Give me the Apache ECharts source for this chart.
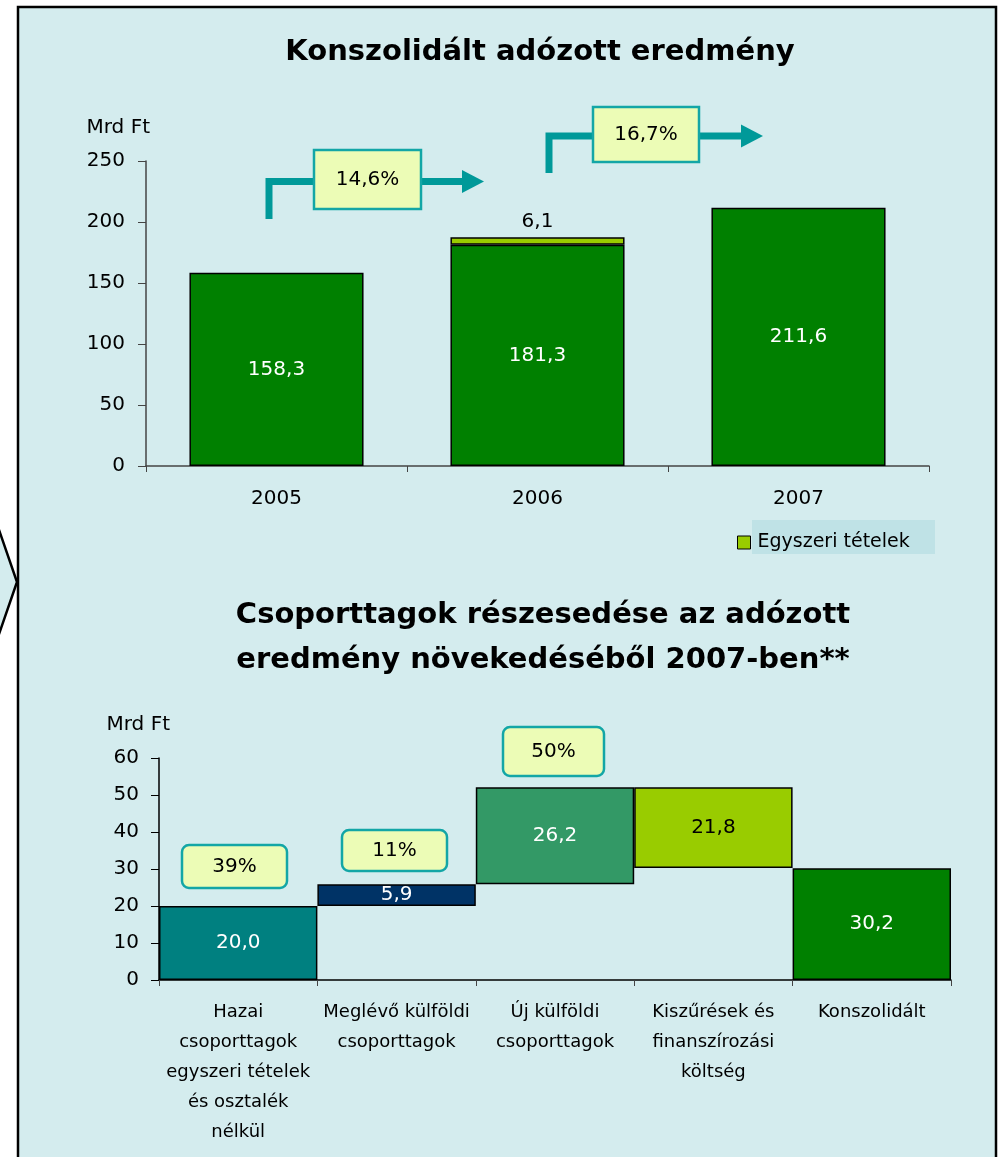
<!DOCTYPE html>
<html>
<head>
<meta charset="utf-8">
<script src="https://cdn.jsdelivr.net/npm/echarts@6/dist/echarts.min.js"></script>
<style>
  html, body { margin: 0; padding: 0; background: #fff; }
  #chart { width: 998px; height: 1157px; }
</style>
</head>
<body>
<div id="chart"></div>
<script>
// felső diagram adatai
const years = ['2005', '2006', '2007']
const consolidated = [158.3, 181.3, 211.6]
const oneOff = [null, 6.1, null]
const growthLabels = ['14,6%', '16,7%']

// alsó (vízesés) diagram adatai
const groups = [
  'Hazai\ncsoporttagok\negyszeri tételek\nés osztalék\nnélkül',
  'Meglévő külföldi\ncsoporttagok',
  'Új külföldi\ncsoporttagok',
  'Kiszűrések és\nfinanszírozási\nköltség',
  'Konszolidált'
]
const steps = [20.0, 5.9, 26.2, -21.8]
const total = 30.2
const shareLabels = ['39%', '11%', '50%']
const stepColors = ['#008080', '#003366', '#339966', '#99cc00', '#008000']

const FONT = 'DejaVu Sans'
const BG = '#d4ecee'
const TEAL = '#009999'

function fmt(v) {
  return Math.abs(v).toFixed(1).replace('.', ',')
}

// vízesés: alap (átlátszó) + látható rész
let running = 0
const wfBase = []
const wfValue = []
steps.forEach(s => {
  if (s >= 0) {
    wfBase.push(running)
    wfValue.push(s)
  } else {
    wfBase.push(running + s)
    wfValue.push(-s)
  }
  running += s
})
wfBase.push(0)
wfValue.push(total)

const chart = echarts.init(document.getElementById('chart'), null, { renderer: 'canvas' })

function arrow(x0, yBottom, yLine, boxL, boxR, tip) {
  const w = 7
  return [
    { type: 'polyline', z: 5, shape: { points: [[x0, yBottom], [x0, yLine], [boxL, yLine]] },
      style: { stroke: TEAL, lineWidth: w, fill: null } },
    { type: 'line', z: 5, shape: { x1: boxR, y1: yLine, x2: tip - 20, y2: yLine },
      style: { stroke: TEAL, lineWidth: w } },
    { type: 'polygon', z: 5, shape: { points: [[tip - 22, yLine - 11.5], [tip, yLine], [tip - 22, yLine + 11.5]] },
      style: { fill: TEAL } }
  ]
}

function box(x, y, w, h, text, r) {
  return [
    { type: 'rect', z: 6, shape: { x: x, y: y, width: w, height: h, r: r || 0 },
      style: { fill: '#ecfcb6', stroke: '#13a6a6', lineWidth: 2.5 } },
    { type: 'text', z: 7, x: x + w / 2, y: y + h / 2,
      style: { text: text, fill: '#000', font: '20px "' + FONT + '"', align: 'center', verticalAlign: 'middle' } }
  ]
}

const graphics = [
  // keret és háttér
  { type: 'rect', z: -10, silent: true, shape: { x: 18, y: 7, width: 978, height: 1170 },
    style: { fill: BG, stroke: '#000', lineWidth: 2.5 } },
  { type: 'polygon', z: -9, silent: true, shape: { points: [[-2, 527], [17, 582], [-2, 637]] },
    style: { fill: BG, stroke: '#000', lineWidth: 2.5 } },
  // jelmagyarázat háttere
  { type: 'rect', z: -5, silent: true, shape: { x: 752, y: 520, width: 183, height: 34 },
    style: { fill: '#bfe2e6' } }
]
  .concat(arrow(269, 219, 181.5, 314, 421, 484))
  .concat(box(314, 150, 107, 59, growthLabels[0]))
  .concat(arrow(549, 173, 136, 593, 699, 763))
  .concat(box(593, 107, 106, 55, growthLabels[1]))
  .concat(box(182, 845, 105, 43, shareLabels[0], 7))
  .concat(box(342, 830, 105, 41, shareLabels[1], 7))
  .concat(box(503, 727, 101, 49, shareLabels[2], 7))

const option = {
  animation: false,
  backgroundColor: '#fff',
  textStyle: { fontFamily: FONT },
  title: [
    { text: 'Konszolidált adózott eredmény', left: 535, top: 33, textAlign: 'center',
      textStyle: { fontFamily: FONT, fontSize: 29, fontWeight: 'bold', color: '#000' } },
    { text: 'Csoporttagok részesedése az adózott\neredmény növekedéséből 2007-ben**',
      left: 538, top: 588, textAlign: 'center',
      textStyle: { fontFamily: FONT, fontSize: 29, fontWeight: 'bold', color: '#000', lineHeight: 45 } }
  ],
  legend: {
    data: ['Egyszeri tételek'],
    left: 732, top: 528,
    icon: 'rect', itemWidth: 13, itemHeight: 13, itemGap: 6,
    itemStyle: { borderColor: '#000', borderWidth: 1 },
    textStyle: { fontFamily: FONT, fontSize: 19, color: '#000', padding: [0, 0, 0, 2] }
  },
  grid: [
    { left: 146, right: 69, top: 161, bottom: 691 },
    { left: 159, right: 47, top: 758, bottom: 177 }
  ],
  xAxis: [
    { type: 'category', gridIndex: 0, data: years,
      axisLine: { lineStyle: { color: '#444', width: 1.5 } },
      axisTick: { show: true, length: 6, interval: 0, lineStyle: { color: '#444' } },
      axisLabel: { fontSize: 20, color: '#000', margin: 23 } },
    { type: 'category', gridIndex: 1, data: groups,
      axisLine: { lineStyle: { color: '#000', width: 1.5 } },
      axisTick: { show: true, length: 6, interval: 0, lineStyle: { color: '#444' } },
      axisLabel: { fontSize: 18, color: '#000', margin: 17, lineHeight: 30, interval: 0 } }
  ],
  yAxis: [
    { type: 'value', gridIndex: 0, min: 0, max: 250, interval: 50,
      name: 'Mrd Ft', nameLocation: 'end', nameGap: 33,
      nameTextStyle: { fontSize: 20, color: '#000', align: 'right', verticalAlign: 'middle', padding: [0, -4, 0, 0] },
      axisLine: { show: true, lineStyle: { color: '#444', width: 1.5 } },
      axisTick: { show: true, length: 8, lineStyle: { color: '#444' } },
      axisLabel: { fontSize: 20, color: '#000', margin: 21 },
      splitLine: { show: false } },
    { type: 'value', gridIndex: 1, min: 0, max: 60, interval: 10,
      name: 'Mrd Ft', nameLocation: 'end', nameGap: 33,
      nameTextStyle: { fontSize: 20, color: '#000', align: 'right', verticalAlign: 'middle', padding: [0, -11, 0, 0] },
      axisLine: { show: true, lineStyle: { color: '#000', width: 1.5 } },
      axisTick: { show: true, length: 8, lineStyle: { color: '#000' } },
      axisLabel: { fontSize: 20, color: '#000', margin: 20 },
      splitLine: { show: false } }
  ],
  series: [
    { name: 'Konszolidált adózott eredmény', type: 'bar', xAxisIndex: 0, yAxisIndex: 0,
      stack: 'top', barWidth: '66.7%', data: consolidated,
      itemStyle: { color: '#008000', borderColor: '#000', borderWidth: 1.5 },
      label: { show: true, position: 'inside', color: '#fff', fontSize: 20,
        formatter: p => fmt(p.value) } },
    { name: 'Egyszeri tételek', type: 'bar', xAxisIndex: 0, yAxisIndex: 0,
      stack: 'top', barWidth: '66.7%', data: oneOff,
      itemStyle: { color: '#99cc00', borderColor: '#000', borderWidth: 1.5 },
      label: { show: true, position: 'top', color: '#000', fontSize: 20, distance: 6,
        formatter: p => p.value == null ? '' : fmt(p.value) } },
    { name: 'alap', type: 'bar', xAxisIndex: 1, yAxisIndex: 1,
      stack: 'wf', barWidth: '100%', data: wfBase, silent: true,
      itemStyle: { color: 'transparent', borderColor: 'transparent' } },
    { name: 'hozzájárulás', type: 'bar', xAxisIndex: 1, yAxisIndex: 1,
      stack: 'wf', barWidth: '100%',
      data: wfValue.map((v, i) => ({
        value: v,
        itemStyle: { color: stepColors[i] },
        label: { color: i === 3 ? '#000' : '#fff' }
      })),
      itemStyle: { borderColor: '#000', borderWidth: 1.5 },
      label: { show: true, position: 'inside', fontSize: 20,
        formatter: p => fmt(p.value) } }
  ],
  graphic: graphics
}

chart.setOption(option)
</script>
</body>
</html>
